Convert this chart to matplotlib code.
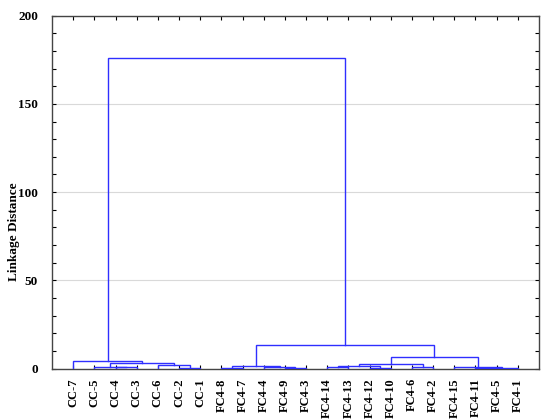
#!/usr/bin/env python3
"""Dendrogram of CC / FC4 samples (linkage distance)."""

import matplotlib
matplotlib.use("Agg")
import matplotlib.pyplot as plt
import numpy as np

# leaves in display order
labels = ["CC-7", "CC-5", "CC-4", "CC-3", "CC-6", "CC-2", "CC-1",
          "FC4-8", "FC4-7", "FC4-4", "FC4-9", "FC4-3",
          "FC4-14", "FC4-13", "FC4-12", "FC4-10", "FC4-6", "FC4-2",
          "FC4-15", "FC4-11", "FC4-5", "FC4-1"]

# merges: (child a, child b) -> new node id 22, 23, ...
merge_left = [5, 2, 1, 4, 24, 0, 7, 10, 9, 28, 12, 14, 32, 16, 34, 19, 37, 18, 36, 31, 27]
merge_right = [6, 3, 23, 22, 25, 26, 8, 11, 29, 30, 13, 15, 33, 17, 35, 20, 21, 38, 39, 40, 41]
merge_height = [0.4, 0.7, 0.9, 2.2, 3.1, 4.25, 0.5, 0.5, 0.9, 1.7, 0.6, 0.5, 1.2, 1.0,
                2.4, 0.3, 0.5, 0.9, 6.3, 13.3, 176.0]

LINE = "#2f2fff"
FONT = "Liberation Serif"

fig = plt.figure(figsize=(5.5, 4.2), dpi=100)
ax = fig.add_axes([0.0945, 0.1226, 0.8855, 0.84])

n = len(labels)
xpos = {i: i + 1.0 for i in range(n)}
hpos = {i: 0.0 for i in range(n)}
for k, (a, b, h) in enumerate(zip(merge_left, merge_right, merge_height)):
    node = n + k
    xa, xb = xpos[a], xpos[b]
    ax.plot([xa, xa, xb, xb], [hpos[a], h, h, hpos[b]], color=LINE, linewidth=1.0,
            solid_joinstyle="miter", zorder=3)
    xpos[node] = (xa + xb) / 2
    hpos[node] = h

ax.set_xlim(0, n + 1)
ax.set_ylim(0, 200)
ax.set_yticks(np.arange(0, 201, 50))
ax.set_yticks(np.arange(0, 201, 10), minor=True)
ax.set_xticks(np.arange(1, n + 1))
ax.set_xticklabels(labels, rotation=90, fontsize=9, fontfamily=FONT, fontweight="bold")
for t in ax.get_yticklabels():
    t.set_fontfamily(FONT)
    t.set_fontweight("bold")
    t.set_fontsize(9.5)

ax.tick_params(axis="both", which="both", direction="in", top=True, right=True,
               width=0.8, length=3, pad=4)
ax.tick_params(axis="y", which="major", pad=10)
ax.tick_params(axis="x", which="major", length=0, pad=7)
ax.tick_params(axis="x", which="major", top=True, length=3)
ax.grid(axis="y", which="major", color="#d9d9d9", linewidth=0.8, zorder=0)
ax.set_axisbelow(True)
for sp in ax.spines.values():
    sp.set_linewidth(1.0)
    sp.set_color("#444444")

ax.set_ylabel("Linkage Distance", fontfamily=FONT, fontweight="bold", fontsize=9.5)
ax.yaxis.set_label_coords(-0.066, 0.387)

fig.savefig("out.png", dpi=100)
